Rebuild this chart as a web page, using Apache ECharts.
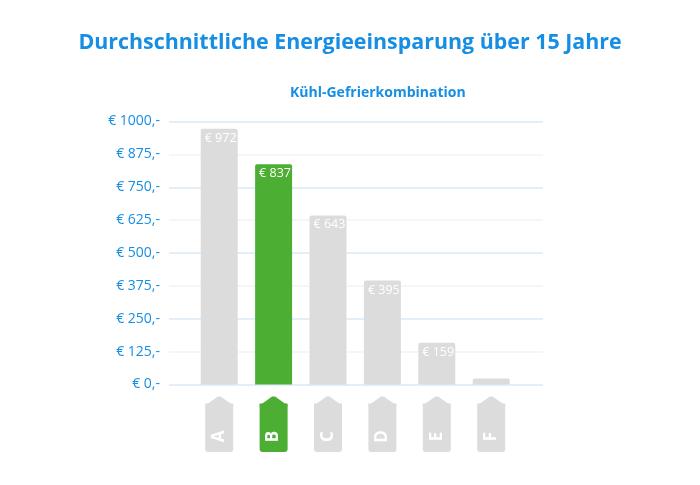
<!DOCTYPE html>
<html>
<head>
<meta charset="utf-8">
<script src="https://cdn.jsdelivr.net/npm/echarts@6/dist/echarts.min.js"></script>
<style>html,body{margin:0;padding:0;background:#fff;}#c{width:700px;height:485px;}</style>
</head>
<body>
<div id="c"></div>
<script>
var categories = ['A', 'B', 'C', 'D', 'E', 'F'];
var savings = [972, 837, 643, 395, 159, 23];
var valueLabels = ['€ 972', '€ 837', '€ 643', '€ 395', '€ 159', ''];
var highlightIndex = 1;
var yTicks = [0, 125, 250, 375, 500, 625, 750, 875, 1000];

var BLUE = '#168ee3';
var GREEN = '#4cae32';
var GRAY = '#dcdcdc';
var FONT = 'Open Sans';

var chart = echarts.init(document.getElementById('c'));
var option = {
  animation: false,
  title: [
    { text: 'Durchschnittliche Energieeinsparung über 15 Jahre', left: 'center', top: 27,
      textStyle: { color: BLUE, fontSize: 21.4, fontWeight: 'bold', fontFamily: FONT } },
    { text: 'Kühl-Gefrierkombination', left: 285, top: 81,
      textStyle: { color: BLUE, fontSize: 14, fontWeight: 'bold', fontFamily: FONT } }
  ],
  grid: [
    { left: 169, right: 157, top: 121.5, bottom: 100.5 },
    { left: 192, right: 181.6, top: 121.5, bottom: 100.5 }
  ],
  xAxis: [
    { gridIndex: 0, type: 'category', data: categories, show: false },
    { gridIndex: 1, type: 'category', data: categories, show: false }
  ],
  yAxis: [
    { gridIndex: 0, type: 'value', min: yTicks[0], max: yTicks[yTicks.length - 1], interval: yTicks[1] - yTicks[0],
      axisLine: { show: false }, axisTick: { show: false },
      axisLabel: { color: BLUE, fontSize: 14, fontFamily: FONT, margin: 9,
        formatter: function (v) { return '€ ' + v + ',-'; } },
      splitLine: { show: true, lineStyle: { color: ['#d9e8f7', '#eef4fb'], width: 1.5 } } },
    { gridIndex: 1, type: 'value', min: yTicks[0], max: yTicks[yTicks.length - 1], show: false, splitLine: { show: false } }
  ],
  series: [
    { type: 'bar', xAxisIndex: 1, yAxisIndex: 1, barWidth: 37,
      data: savings.map(function (v, i) {
        return { value: v, itemStyle: { color: i === highlightIndex ? GREEN : GRAY, borderRadius: [2, 2, 0, 0] },
          label: { formatter: valueLabels[i] } };
      }),
      label: { show: true, position: 'insideTopLeft', distance: 3, color: '#fff', fontSize: 12.5, fontFamily: FONT,
        offset: [1, 0] } },
    { type: 'custom', xAxisIndex: 1, yAxisIndex: 1, clip: false, silent: true,
      data: categories.map(function (c, i) { return [i, 0]; }),
      renderItem: function (params, api) {
        var p = api.coord([api.value(0), 0]);
        var cx = p[0], base = p[1];
        var i = api.value(0);
        var col = i === highlightIndex ? GREEN : GRAY;
        var hw = 14;
        return { type: 'group', children: [
          { type: 'rect', shape: { x: cx - hw, y: base + 19, width: hw * 2, height: 48.5, r: [0, 0, 3, 3] }, style: { fill: col } },
          { type: 'polygon', shape: { points: [[cx - hw, base + 21], [cx - 1.5, base + 12], [cx + 1.5, base + 12], [cx + hw, base + 21], [cx + hw, base + 22], [cx - hw, base + 22]] }, style: { fill: col } },
          { type: 'text', x: cx, y: base + 52, rotation: Math.PI / 2,
            style: { text: categories[i], fill: '#fff', font: 'bold 17px "Open Sans"', align: 'center', verticalAlign: 'middle' } }
        ] };
      } }
  ]
};
chart.setOption(option);
</script>
</body>
</html>
